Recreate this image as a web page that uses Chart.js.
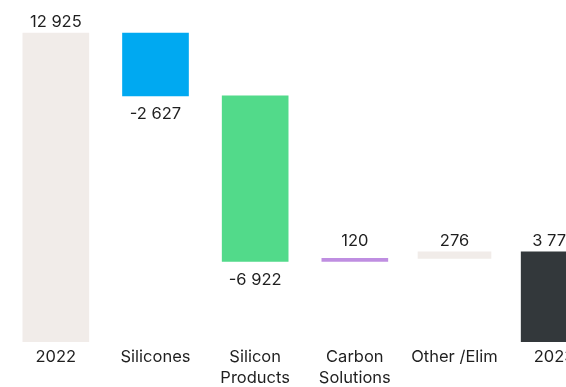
<!DOCTYPE html>
<html>
<head>
<meta charset="utf-8">
<script src="https://cdn.jsdelivr.net/npm/chart.js@4.4.1/dist/chart.umd.min.js"></script>
<style>
  html, body { margin: 0; padding: 0; background: #fff; overflow: hidden; }
  #wrap { width: 604px; height: 387px; }
</style>
</head>
<body>
<div id="wrap"><canvas id="myChart"></canvas></div>
<script>
// waterfall data
const categories = ['2022', 'Silicones', ['Silicon', 'Products'], ['Carbon', 'Solutions'], 'Other /Elim', '2023'];
const changes = [12925, -2627, -6922, 120, 276, 3772];
const isTotal = [true, false, false, false, false, true];
const barColors = ['#f1ece9', '#00a9f1', '#52da8a', '#bf8ee1', '#f1ece9', '#33383b'];

// floating bars from the running total
let running = 0;
const floating = changes.map(function (v, i) {
    if (isTotal[i]) {
        running = v;
        return [0, v];
    }
    const start = running;
    running += v;
    return [start, running];
});

// the "Other" bar is drawn a bit wider in the original
const WIDE = 4;
const normalBars = floating.map(function (d, i) { return i === WIDE ? null : d; });
const wideBars = floating.map(function (d, i) { return i === WIDE ? d : null; });

function fmt(n) {
    const s = String(Math.abs(n)).replace(/\B(?=(\d{3})+(?!\d))/g, ' ');
    return (n < 0 ? '-' : '') + s;
}

const FONT = 'Inter, "DejaVu Sans", sans-serif';

const valueLabels = {
    id: 'valueLabels',
    afterDatasetsDraw(chart) {
        const ctx = chart.ctx;
        const m0 = chart.getDatasetMeta(0).data;
        const m1 = chart.getDatasetMeta(1).data;
        const bars = changes.map(function (v, i) { return i === WIDE ? m1[i] : m0[i]; });
        const tops = bars.map(function (b) { return Math.min(b.y, b.base); });
        ctx.save();
        ctx.font = '16.5px ' + FONT;
        ctx.fillStyle = '#1f1f1f';
        ctx.textAlign = 'center';
        bars.forEach(function (bar, i) {
            const v = changes[i];
            if (v < 0) {
                ctx.textBaseline = 'top';
                ctx.fillText(fmt(v), bar.x, Math.max(bar.y, bar.base) + 10);
            } else {
                // keep small steps level with the bars that follow
                const level = Math.min.apply(null, tops.slice(i));
                ctx.textBaseline = 'alphabetic';
                ctx.fillText(fmt(v), bar.x, level - 6);
            }
        });
        ctx.restore();
    }
};

document.addEventListener('DOMContentLoaded', function () {
    const ctx = document.getElementById('myChart');

    new Chart(ctx, {
        type: 'bar',
        data: {
            labels: categories,
            datasets: [{
                data: normalBars,
                backgroundColor: barColors,
                borderWidth: 0,
                borderSkipped: false,
                grouped: false,
                barThickness: 66
            }, {
                data: wideBars,
                backgroundColor: barColors,
                borderWidth: 0,
                borderSkipped: false,
                grouped: false,
                barThickness: 73
            }]
        },
        options: {
            responsive: true,
            maintainAspectRatio: false,
            animation: false,
            layout: { padding: { left: 6, right: 0, top: 0, bottom: -7 } },
            plugins: {
                legend: { display: false },
                tooltip: { enabled: false }
            },
            scales: {
                x: {
                    grid: { display: false, drawTicks: false },
                    border: { display: false },
                    ticks: {
                        color: '#1f1f1f',
                        padding: 5,
                        maxRotation: 0,
                        autoSkip: false,
                        font: { family: FONT, size: 16.5, lineHeight: '21px' }
                    }
                },
                y: {
                    display: false,
                    min: 0,
                    max: 14310
                }
            }
        },
        plugins: [valueLabels]
    });
});
</script>
</body>
</html>
